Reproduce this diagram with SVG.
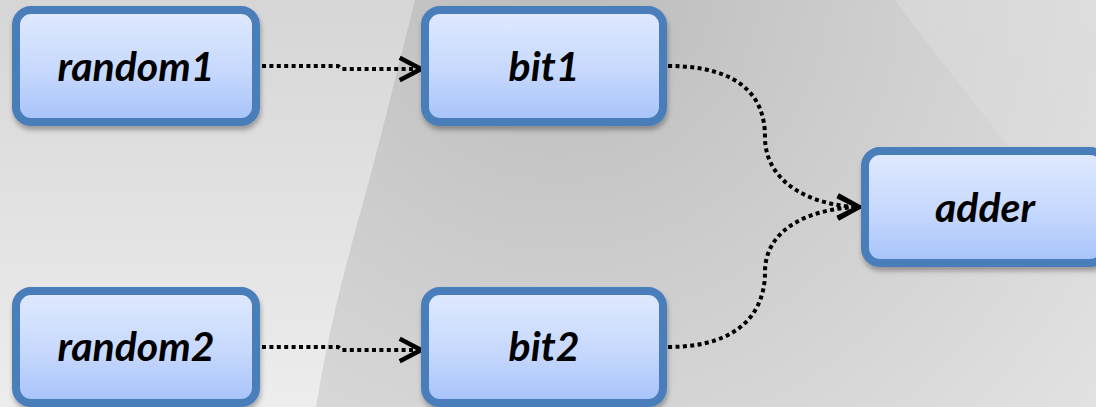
<svg xmlns="http://www.w3.org/2000/svg" width="1096" height="407" viewBox="0 0 1096 407">
  <defs>
    <!-- backdrop -->
    <linearGradient id="bgBase" x1="0" y1="0" x2="0" y2="1">
      <stop offset="0" stop-color="#d6d6d6"/>
      <stop offset="1" stop-color="#ededed"/>
    </linearGradient>
    <radialGradient id="bgArc" cx="560" cy="-20" r="760" gradientUnits="userSpaceOnUse">
      <stop offset="0" stop-color="#bbbbbb"/>
      <stop offset="0.4" stop-color="#cdcdcd"/>
      <stop offset="1" stop-color="#e6e6e6"/>
    </radialGradient>
    <linearGradient id="bgSheen" x1="0" y1="0" x2="1" y2="1">
      <stop offset="0" stop-color="#ffffff" stop-opacity="0.16"/>
      <stop offset="1" stop-color="#ffffff" stop-opacity="0.04"/>
    </linearGradient>

    <!-- node fill -->
    <linearGradient id="nodeFill" x1="0" y1="0" x2="0" y2="1">
      <stop offset="0" stop-color="#e0eafe"/>
      <stop offset="0.55" stop-color="#c6d8fd"/>
      <stop offset="1" stop-color="#a6c3fa"/>
    </linearGradient>
    <filter id="shadow" x="-10%" y="-10%" width="125%" height="135%">
      <feDropShadow dx="1" dy="4" stdDeviation="2.5" flood-color="#000" flood-opacity="0.3"/>
    </filter>

    <!-- open chevron arrowhead -->
    <marker id="chevron" markerUnits="userSpaceOnUse" markerWidth="32" markerHeight="32"
            viewBox="-26 -15 30 30" refX="0" refY="0" orient="auto">
      <path d="M-20,-10.5 L0,0 L-20,10.5" fill="none" stroke="#000" stroke-width="4.2" stroke-linejoin="miter"/>
    </marker>

    <style>
      .node rect { fill: url(#nodeFill); stroke: #4a7ebb; stroke-width: 8; filter: url(#shadow); }
      .node text { font-family: Lato, "Open Sans", "Liberation Sans", sans-serif; font-weight: bold;
                   font-style: italic; font-size: 41px; fill: #000; text-anchor: middle; }
      .link { fill: none; stroke: #000; stroke-width: 4; stroke-dasharray: 4 3.4; marker-end: url(#chevron); }
    </style>
  </defs>

  <!-- background -->
  <rect x="0" y="0" width="1096" height="407" fill="url(#bgBase)"/>
  <path d="M415,0 C400,60 385,120 372,170 C350,250 330,320 316,407 L1096,407 L1096,0 Z" fill="url(#bgArc)"/>
  <path d="M895,0 C930,50 975,100 1010,150 C1040,190 1070,230 1096,260 L1096,0 Z" fill="url(#bgSheen)"/>

  <!-- connectors -->
  <g id="connectors">
    <path class="link" d="M262,66 H338 L342,69 H421"/>
    <path class="link" d="M262,347 H338 L342,350 H421"/>
    <path class="link" d="M668,66 C742,66 765,98 765,137 C765,185 815,206 859,207"/>
    <path class="link" d="M668,347 C742,347 765,310 765,272 C765,226 815,208 859,207"/>
  </g>

  <!-- nodes -->
  <g id="random1" class="node">
    <rect x="16" y="10" width="240" height="112" rx="15"/>
    <text x="136" y="81">random1</text>
  </g>
  <g id="bit1" class="node">
    <rect x="425" y="10" width="238" height="112" rx="15"/>
    <text x="544" y="81">bit1</text>
  </g>
  <g id="adder" class="node">
    <rect x="865" y="151" width="240" height="112" rx="15"/>
    <text x="985" y="222">adder</text>
  </g>
  <g id="random2" class="node">
    <rect x="16" y="291" width="240" height="112" rx="15"/>
    <text x="136" y="361">random2</text>
  </g>
  <g id="bit2" class="node">
    <rect x="425" y="291" width="238" height="112" rx="15"/>
    <text x="544" y="361">bit2</text>
  </g>
</svg>
